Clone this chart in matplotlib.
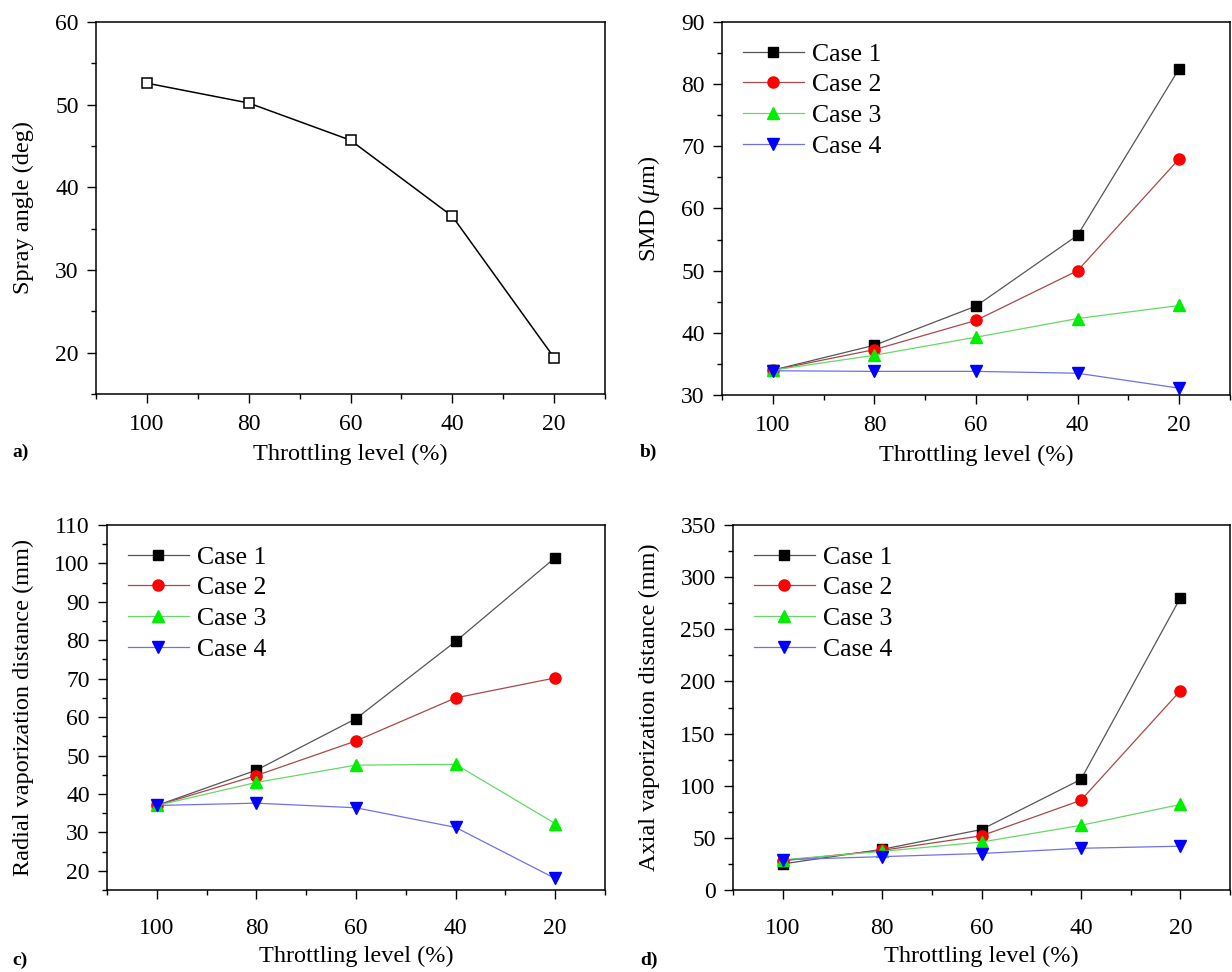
import matplotlib.pyplot as plt
from matplotlib.ticker import MultipleLocator

plt.rcParams['font.family'] = ['Liberation Serif', 'DejaVu Serif']
plt.rcParams['mathtext.fontset'] = 'custom'
plt.rcParams['mathtext.it'] = 'Liberation Serif:italic'
plt.rcParams['mathtext.rm'] = 'Liberation Serif'

throttle = [100, 80, 60, 40, 20]

spray_angle = [52.6, 50.2, 45.7, 36.5, 19.4]

smd_case1 = [34.0, 38.0, 44.3, 55.7, 82.5]
smd_case2 = [34.0, 37.3, 42.0, 50.0, 68.0]
smd_case3 = [34.0, 36.4, 39.3, 42.3, 44.4]
smd_case4 = [33.9, 33.8, 33.8, 33.5, 31.1]

radial_case1 = [37.0, 46.2, 59.6, 79.7, 101.5]
radial_case2 = [37.0, 44.8, 53.8, 65.0, 70.2]
radial_case3 = [37.0, 43.0, 47.5, 47.7, 32.3]
radial_case4 = [37.0, 37.6, 36.4, 31.3, 18.0]

axial_case1 = [25, 39, 58, 106, 280]
axial_case2 = [28, 38, 52, 86, 191]
axial_case3 = [29, 37, 46, 62, 82]
axial_case4 = [29, 32, 35, 40, 42]

case_labels = ['Case 1', 'Case 2', 'Case 3', 'Case 4']

# marker, marker colour, line colour, marker size
case_styles = [
    ('s', '#000000', '#555555', 7),
    ('o', '#ff0000', '#a84848', 8),
    ('^', '#00ee00', '#66d866', 8.5),
    ('v', '#0000ff', '#7070e8', 8.5),
]

W, H = 1232, 972
fig = plt.figure(figsize=(W / 100, H / 100), dpi=100)


def add_panel(left, right, top, bottom):
    return fig.add_axes([left / W, 1 - bottom / H, (right - left) / W, (bottom - top) / H])


def style_axes(ax, ylim, ymajor, yminor, ylabel, ylabel_x, xpad, xlabelpad):
    ax.set_xlim(110, 10)
    ax.set_ylim(*ylim)
    ax.xaxis.set_major_locator(MultipleLocator(20))
    ax.xaxis.set_minor_locator(MultipleLocator(10))
    ax.yaxis.set_major_locator(MultipleLocator(ymajor))
    ax.yaxis.set_minor_locator(MultipleLocator(yminor))
    ax.tick_params(which='both', direction='out', top=False, right=False, width=1.0)
    ax.tick_params(which='major', length=6.5, labelsize=17)
    ax.tick_params(which='minor', length=3.5)
    ax.tick_params(axis='y', which='major', pad=6)
    ax.tick_params(axis='x', which='major', pad=xpad)
    for sp in ax.spines.values():
        sp.set_linewidth(1.1)
    ax.set_xlabel('Throttling level (%)', fontsize=17.5, labelpad=xlabelpad)
    ax.set_ylabel(ylabel, fontsize=17.5)
    ax.yaxis.set_label_coords(ylabel_x, 0.5)


def plot_cases(ax, series):
    for values, label, (mk, mc, lc, ms) in zip(series, case_labels, case_styles):
        ax.plot(throttle, values, color=lc, lw=0.9, marker=mk, ms=ms,
                mfc=mc, mec=mc, label=label)
    ax.legend(loc='upper left', frameon=False, fontsize=18.5, handlelength=2.4,
              handletextpad=0.3, labelspacing=0.3, borderaxespad=0.4,
              bbox_to_anchor=(0.0, 1.0))


# a) spray angle
ax_a = add_panel(96, 605, 22, 394)
ax_a.plot(throttle, spray_angle, color='black', lw=1.1, marker='s', ms=6.5,
          mfc='white', mec='black', mew=1.1)
style_axes(ax_a, (15, 60), 10, 5, 'Spray angle (deg)', -0.122, 8, 6)

# b) SMD
ax_b = add_panel(722, 1230, 22, 395)
plot_cases(ax_b, [smd_case1, smd_case2, smd_case3, smd_case4])
style_axes(ax_b, (30, 90), 10, 5, 'SMD ($\\mu$m)', -0.118, 8, 6)

# c) radial vaporization distance
ax_c = add_panel(107, 605, 525, 890)
plot_cases(ax_c, [radial_case1, radial_case2, radial_case3, radial_case4])
style_axes(ax_c, (15, 110), 10, 5, 'Radial vaporization distance (mm)', -0.147, 14, 4.5)

# d) axial vaporization distance
ax_d = add_panel(733, 1230, 525, 890)
plot_cases(ax_d, [axial_case1, axial_case2, axial_case3, axial_case4])
style_axes(ax_d, (0, 350), 50, 25, 'Axial vaporization distance (mm)', -0.147, 14, 4.5)

for txt, x, y in [('a)', 12, 452), ('b)', 640, 452), ('c)', 12, 960), ('d)', 640, 960)]:
    fig.text(x / W, 1 - y / H, txt, fontsize=14, fontweight='bold', va='center', ha='left')

fig.savefig('out.png', dpi=100)
